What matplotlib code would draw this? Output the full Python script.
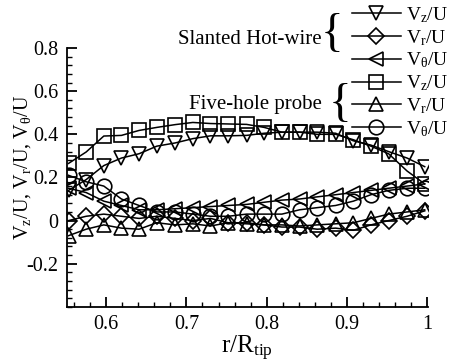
import numpy as np
import matplotlib
matplotlib.use('Agg')
import matplotlib.pyplot as plt
from matplotlib.ticker import MultipleLocator, FuncFormatter

plt.rcParams['font.family'] = ['Liberation Serif', 'DejaVu Serif']
plt.rcParams['mathtext.fontset'] = 'stix'
plt.rcParams['mathtext.default'] = 'regular'
plt.rcParams['axes.unicode_minus'] = False

# radial stations r/R_tip
r = [0.553, 0.575, 0.597, 0.619, 0.641, 0.663, 0.686, 0.708, 0.730, 0.752, 0.775,
     0.797, 0.819, 0.841, 0.863, 0.886, 0.908, 0.930, 0.952, 0.975, 0.997]

# slanted hot-wire
hw_vz = [0.14, 0.19, 0.255, 0.29, 0.31, 0.345, 0.36, 0.38, 0.393, 0.393, 0.395,
         0.405, 0.41, 0.41, 0.41, 0.405, 0.37, 0.35, 0.32, 0.29, 0.25]
hw_vr = [0.0, 0.02, 0.03, 0.02, 0.01, 0.02, 0.01, 0.0, 0.01, -0.01, -0.01,
         -0.02, -0.03, -0.03, -0.04, -0.035, -0.045, -0.02, 0.0, 0.02, 0.045]
hw_vt = [0.15, 0.13, 0.09, 0.07, 0.05, 0.05, 0.055, 0.06, 0.065, 0.07, 0.075,
         0.085, 0.095, 0.1, 0.11, 0.12, 0.13, 0.14, 0.15, 0.16, 0.17]

# five-hole probe
fh_vz = [0.265, 0.318, 0.392, 0.395, 0.418, 0.432, 0.445, 0.455, 0.45, 0.448, 0.446,
         0.432, 0.41, 0.41, 0.40, 0.40, 0.375, 0.345, 0.31, 0.23, 0.17]
fh_vr = [-0.07, -0.04, -0.02, -0.035, -0.04, -0.01, -0.02, -0.015, -0.025, -0.01, -0.015,
         -0.02, -0.02, -0.025, -0.02, -0.015, -0.01, 0.01, 0.03, 0.04, 0.05]
fh_vt = [0.21, 0.18, 0.16, 0.10, 0.07, 0.04, 0.04, 0.03, 0.02, 0.02, 0.03,
         0.03, 0.03, 0.05, 0.06, 0.07, 0.09, 0.12, 0.14, 0.15, 0.15]

labels = ['V$_z$/U', 'V$_r$/U', 'V$_\\theta$/U'] * 2

fig = plt.figure(figsize=(4.49, 3.64), dpi=100)
ax = fig.add_axes([0.149, 0.157, 0.804, 0.711])

kw = dict(color='k', lw=1.1, fillstyle='none', mew=1.2, ms=10.5)
h1, = ax.plot(r, hw_vz, marker='v', **kw)
h2, = ax.plot(r, hw_vr, marker='D', **dict(kw, ms=8.5))
h3, = ax.plot(r, hw_vt, marker='<', **kw)
h4, = ax.plot(r, fh_vz, marker='s', **dict(kw, ms=9.5))
h5, = ax.plot(r, fh_vr, marker='^', **kw)
h6, = ax.plot(r, fh_vt, marker='o', **kw)

ax.set_xlim(0.551, 1.001)
ax.set_ylim(-0.4, 0.8)
ax.set_xticks([0.6, 0.7, 0.8, 0.9, 1.0])
ax.set_yticks([-0.2, 0, 0.2, 0.4, 0.6, 0.8])
ax.xaxis.set_minor_locator(MultipleLocator(0.02))
ax.yaxis.set_minor_locator(MultipleLocator(0.04))
fmt = FuncFormatter(lambda v, p: '%g' % round(v, 2))
ax.xaxis.set_major_formatter(fmt)
ax.yaxis.set_major_formatter(fmt)
ax.spines['top'].set_visible(False)
ax.spines['right'].set_visible(False)
for s in ('left', 'bottom'):
    ax.spines[s].set_linewidth(1.3)
ax.tick_params(which='major', direction='in', length=7, width=1.3, labelsize=14.5, pad=6)
ax.tick_params(which='minor', direction='in', length=3.5, width=1.0)

ax.set_xlabel('r/R$_{tip}$', fontsize=18, labelpad=0)
ax.set_ylabel('V$_z$/U, V$_r$/U, V$_\\theta$/U', fontsize=14.5)
ax.yaxis.set_label_coords(-0.094, 0.54)

leg = ax.legend([h1, h2, h3, h4, h5, h6], labels, loc='upper left',
                bbox_to_anchor=(352 / 449, 1 - 5 / 364), bbox_transform=fig.transFigure,
                frameon=False, fontsize=14, handlelength=2.5, handletextpad=0.3,
                labelspacing=0.16, borderpad=0, borderaxespad=0)

fig.text(322 / 449, 1 - 40 / 364, 'Slanted Hot-wire', ha='right', va='center', fontsize=15)
fig.text(332 / 449, 1 - 35 / 364, '{', ha='center', va='center', fontsize=34)
fig.text(322 / 449, 1 - 104 / 364, 'Five-hole probe', ha='right', va='center', fontsize=15)
fig.text(340 / 449, 1 - 105 / 364, '{', ha='center', va='center', fontsize=34)

fig.savefig('out.png', dpi=100)
